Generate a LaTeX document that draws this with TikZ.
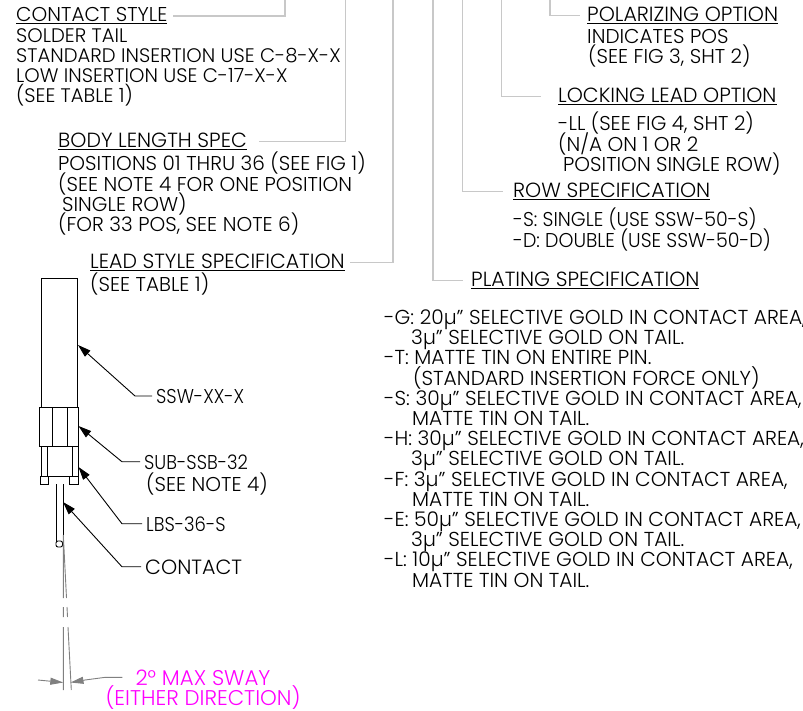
\documentclass[tikz,border=0pt]{standalone}
\usepackage{fontspec}
\setmainfont{Poppins Light}
\newfontfamily\tightfamily[FakeStretch=0.9]{Poppins Light}
\newfontfamily\closefamily[FakeStretch=0.95]{Poppins Light}
\usepackage{xcolor}
\usetikzlibrary{arrows.meta, positioning}
\definecolor{leadergray}{HTML}{C8C8C8}
\definecolor{swaygray}{HTML}{808080}
\definecolor{swaypink}{HTML}{FF00FF}
\newcommand{\specsize}[1]{\lineskiplimit=-100pt\fontsize{#1}{20.2}\selectfont}
\tikzset{
  spechead/.style={anchor=base west, inner sep=0pt, font=\specsize{20.5}},
  spectext/.style={anchor=north west, inner sep=0pt, align=left, font=\specsize{20}},
  partlabel/.style={anchor=base west, inner sep=0pt, font=\specsize{20}},
  swaylabel/.style={anchor=base, inner sep=0pt, text=swaypink, font=\specsize{21.3}},
  leader/.style={draw=leadergray, line width=1.1pt, shorten >=5pt},
  callout/.style={draw=black, line width=0.9pt, shorten <=4pt, -{Triangle[length=13pt,width=8pt]}},
  part/.style={draw=black, line width=0.9pt},
  sway/.style={draw=swaygray, line width=0.9pt},
}
\begin{document}
\begin{tikzpicture}[x=1pt,y=-1pt]
\useasboundingbox (0,0) rectangle (803,711);
% headings and their notes
\node[spechead, font=\specsize{20}] (contacthead) at (16,22) {\underline{CONTACT STYLE}};
\node[spectext, font=\specsize{19.6}] (contactnote) at (16,28) {SOLDER TAIL\\STANDARD INSERTION USE C-8-X-X\\LOW INSERTION USE C-17-X-X\\(SEE TABLE 1)};
\node[spechead] (bodyhead) at (58,148) {\underline{BODY LENGTH SPEC}};
\node[spectext] (bodynote) at (58,152) {POSITIONS 01 THRU 36 (SEE FIG 1)\\(SEE NOTE 4 FOR ONE POSITION\\\hspace{4pt}SINGLE ROW)\\(FOR 33 POS, SEE NOTE 6)};
\node[spechead] (leadhead) at (90,269) {\underline{LEAD STYLE SPECIFICATION}};
\node[spectext] (leadnote) at (90,273) {(SEE TABLE 1)};
\node[spechead] (polarhead) at (587,22) {\underline{POLARIZING OPTION}};
\node[spectext] (polarnote) at (587,29) {INDICATES POS\\\hspace{1pt}(SEE FIG 3, SHT 2)};
\node[spechead] (lockhead) at (558,103) {\underline{LOCKING LEAD OPTION}};
\node[spectext] (locknote) at (558,112) {-LL (SEE FIG 4, SHT 2)\\(N/A ON 1 OR 2\\\hspace{5pt}POSITION SINGLE ROW)};
\node[spechead] (rowhead) at (513,198) {\underline{ROW SPECIFICATION}};
\node[spectext, font=\specsize{20}\closefamily] (rownote) at (513,208) {-S: SINGLE (USE SSW-50-S)\\-D: DOUBLE (USE SSW-50-D)};
\node[spechead] (platehead) at (471,287) {\underline{PLATING SPECIFICATION}};
\node[spectext, font=\specsize{20.2}] (platenote) at (384,309.5) {-G: 20µ" SELECTIVE GOLD IN CONTACT AREA,\\\hspace{27pt}3µ" SELECTIVE GOLD ON TAIL.\\-T: MATTE TIN ON ENTIRE PIN.\\\hspace{29pt}(STANDARD INSERTION FORCE ONLY)\\-S: 30µ" SELECTIVE GOLD IN CONTACT AREA,\\\hspace{28pt}MATTE TIN ON TAIL.\\-H: 30µ" SELECTIVE GOLD IN CONTACT AREA,\\\hspace{27pt}3µ" SELECTIVE GOLD ON TAIL.\\-F: 3µ" SELECTIVE GOLD IN CONTACT AREA,\\\hspace{28pt}MATTE TIN ON TAIL.\\-E: 50µ" SELECTIVE GOLD IN CONTACT AREA,\\\hspace{27pt}3µ" SELECTIVE GOLD ON TAIL.\\-L: 10µ" SELECTIVE GOLD IN CONTACT AREA,\\\hspace{28pt}MATTE TIN ON TAIL.};
% leaders running off the top
\coordinate (contacttop) at (285,0);
\coordinate (bodytop) at (345.5,0);
\coordinate (leadtop) at (393,0);
\coordinate (platetop) at (433,0);
\coordinate (rowtop) at (462.5,0);
\coordinate (locktop) at (501.5,0);
\coordinate (polartop) at (550,0);
\draw[leader] (contacttop) |- (contacthead.east);
\draw[leader] (bodytop) |- ([xshift=7pt]bodyhead.east);
\draw[leader] (leadtop) |- (leadhead.east);
\draw[leader] (platetop) |- ([xshift=-3pt]platehead.west);
\draw[leader] (rowtop) |- ([xshift=-5pt]rowhead.west);
\draw[leader] (locktop) |- ([xshift=-12pt]lockhead.west);
\draw[leader] (polartop) |- ([xshift=-2pt]polarhead.west);
% connector side view
\draw[part] (41,278) rectangle (77,407);
\draw[part] (39.5,407) rectangle (78,446)
    (52,407) -- (52,446)
    (67,407) -- (67,446);
\draw[part] (41,446) -- (41,476)
    (47,446) -- (47,476) -- (72,476) -- (72,446)
    (78,446) -- (78,476);
\draw[part] (40,476) rectangle (48,484)
    (69.5,476) rectangle (78,484);
\draw[part] (56,484) -- (56,541)
    (63,484) -- (63,541);
\draw[part, rounded corners=2pt] (56,541) rectangle (62.5,547);
% part labels
\node[partlabel, font=\specsize{20}\tightfamily] (ssw) at (156,403) {SSW-XX-X};
\node[partlabel, font=\specsize{20}\tightfamily] (sub) at (144,469) {SUB-SSB-32};
\node[partlabel] (subnote) at (146,491) {(SEE NOTE 4)};
\node[partlabel, font=\specsize{20}\tightfamily] (lbs) at (146,531) {LBS-36-S};
\node[partlabel, font=\specsize{20.6}] (contact) at (145,574) {CONTACT};
\coordinate (ssw tip) at (78,345);
\coordinate (sub tip) at (78.5,426);
\coordinate (lbs tip) at (78.5,467);
\coordinate (contact tip) at (63,502);
\draw[callout] (ssw.west) -- ++(-21,0) -- (ssw tip);
\draw[callout] (sub.west) -- ++(-22,0) -- (sub tip);
\draw[callout] (lbs.west) -- ++(-24,0) -- (lbs tip);
\draw[callout] (contact.west) -- ++(-23,0) -- (contact tip);
% sway lines
\draw[sway] (63.3,535) -- (63.3,598)
    (63.3,607) -- (63.3,617)
    (63.3,627) -- (63.3,690)
    (63.3,535) -- (66.5,598)
    (67,607) -- (67.5,617)
    (68,627) -- (71.3,690);
\coordinate (sway left) at (63.3,682.5);
\coordinate (sway right) at (70.5,682.5);
\coordinate (sway tail) at (38,680);
\node[swaylabel] (swaymax) at (203,685) {2° MAX SWAY};
\node[swaylabel] (swaydir) at (203,705) {(EITHER DIRECTION)};
\draw[sway, -{Triangle[length=13pt,width=7pt]}] (sway tail) -- (sway left);
\draw[sway, shorten <=13pt, -{Triangle[length=13pt,width=7pt]}] (swaymax.west) -- ++(-30,0) -- (85,680) -- (sway right);
\end{tikzpicture}
\end{document}
